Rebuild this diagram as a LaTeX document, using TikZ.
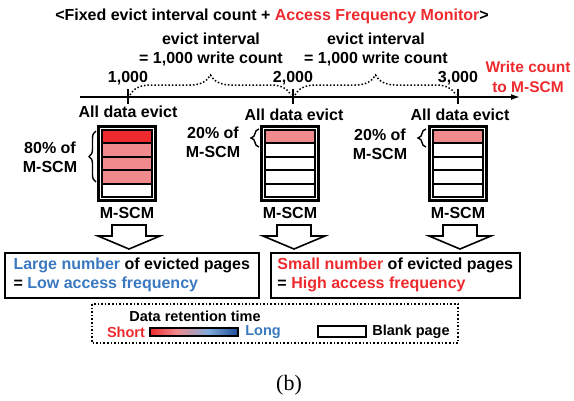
\documentclass[tikz,border=0pt]{standalone}
\usepackage{fontspec}
\setmainfont{Liberation Sans}
\newfontfamily\capfont{Liberation Serif}
\usetikzlibrary{positioning,decorations.pathreplacing,arrows.meta}

\definecolor{hotred}{HTML}{EE2A2F}
\definecolor{warmpink}{HTML}{F08A8C}
\definecolor{coolblue}{HTML}{3A78C0}
\definecolor{paleblue}{HTML}{7FA9DA}
\definecolor{deepblue}{HTML}{1F4D98}
\pgfdeclarehorizontalshading{retention}{100bp}{color(0bp)=(hotred); color(25bp)=(hotred); color(40bp)=(warmpink); color(58bp)=(paleblue); color(75bp)=(deepblue); color(100bp)=(deepblue)}

\tikzset{
  lbl/.style={font=\fontsize{16}{19}\selectfont\bfseries, inner sep=0pt},
  small/.style={font=\fontsize{14.5}{17}\selectfont\bfseries, inner sep=0pt},
  frame/.style={line width=3pt},
  page/.style={line width=1.6pt},
  tick/.style={line width=2pt},
  hollow/.style={line width=1.6pt, fill=white},
  textbox/.style={lbl, draw, line width=1.6pt, minimum height=45pt, align=left,
    inner xsep=5pt, inner ysep=4pt, anchor=north west},
}

\begin{document}
\begin{tikzpicture}[x=1pt, y=-1pt]
\useasboundingbox (0,0) rectangle (574,400);

% Tiêu đề
\node[lbl] (title) at (272,16) {<Fixed evict interval count + \textcolor{hotred}{Access Frequency Monitor}>};

% Trục số lần ghi
\coordinate (axstart) at (80,97);
\coordinate (axend) at (520,97);
\draw[line width=1.5pt, -{Latex[length=9pt,width=6pt]}] (axstart) -- (axend);
\node[lbl, text=hotred, align=center, font=\fontsize{15.5}{20}\selectfont\bfseries]
  (wcount) at (528,76.5) {Write count\\to M-SCM};

% Các vạch 1,000 / 2,000 / 3,000
\foreach \x/\v [count=\i] in {128/{1,000}, 293/{2,000}, 458/{3,000}} {
  \coordinate (t\i) at (\x,97);
  \draw[tick] (\x,89) -- (\x,104);
  \node[lbl] (num\i) at (\x,78) {\v};
}

% Ngoặc chấm: khoảng evict
\coordinate (b1) at (130,95);
\coordinate (b2) at (291,95);
\coordinate (b3) at (295,95);
\coordinate (b4) at (456,95);
\draw[decorate, decoration={brace, amplitude=20pt}, dotted, line width=1.5pt] (b1) -- (b2);
\draw[decorate, decoration={brace, amplitude=20pt}, dotted, line width=1.5pt] (b3) -- (b4);
\node[lbl, align=center] (int1) at (211,49.5) {evict interval\\= 1,000 write count};
\node[lbl, align=center] (int2) at (376,49.5) {evict interval\\= 1,000 write count};

% All data evict
\node[lbl] (ev1) at (128,112) {All data evict};
\node[lbl] (ev2) at (294,115) {All data evict};
\node[lbl] (ev3) at (460,115) {All data evict};

% Ba khối M-SCM
\foreach \c/\cols [count=\i] in {127/{hotred,warmpink,warmpink,warmpink,white},
    290/{warmpink,white,white,white,white}, 458/{warmpink,white,white,white,white}} {
  \draw[frame] (\c-28.5,126.5) rectangle (\c+28.5,200.5);
  \foreach \f [count=\k from 0] in \cols
    \draw[page, fill=\f] (\c-25.2,129.8+13.48*\k) rectangle (\c+25.2,143.28+13.48*\k);
  \node[lbl] (scm\i) at (\c,213) {M-SCM};
}

% Ngoặc phần trăm
\draw[decorate, decoration={brace, amplitude=7pt}, line width=1.4pt] (96,182) -- (96,131);
\draw[decorate, decoration={brace, amplitude=8pt}, line width=1.4pt] (259,147) -- (259,129);
\draw[decorate, decoration={brace, amplitude=8pt}, line width=1.4pt] (426,147) -- (426,129);
\node[lbl, align=center] (pct1) at (50,157.5) {80\% of\\M-SCM};
\node[lbl, align=center] (pct2) at (213,142.5) {20\% of\\M-SCM};
\node[lbl, align=center] (pct3) at (380,144) {20\% of\\M-SCM};

% Mũi tên rỗng
\foreach \x in {129,294,460}
  \draw[hollow] (\x-17,225) -- (\x+17,225) -- (\x+17,236) -- (\x+31,236)
    -- (\x,249) -- (\x-31,236) -- (\x-17,236) -- cycle;

% Hai ô kết luận
\node[textbox, minimum width=254pt] (lowbox) at (4,252)
  {\textcolor{coolblue}{Large number} of evicted pages\\= \textcolor{coolblue}{Low access frequency}};
\node[textbox, minimum width=249pt] (highbox) at (270,252)
  {\textcolor{hotred}{Small number} of evicted pages\\= \textcolor{hotred}{High access frequency}};

% Chú thích
\draw[dotted, line width=1.6pt] (92,304) rectangle (458,343);
\node[small] (ret) at (195,316) {Data retention time};
\node[small, text=hotred] (short) at (126,332) {Short};
\shade[shading=retention] (150,328) rectangle (238,336);
\draw[line width=1.6pt] (150,328) rectangle (238,336);
\node[small, text=coolblue] (long) at (263,332) {Long};
\draw[line width=1.8pt] (318,326) rectangle (366,337);
\node[small] (blank) at (411,332) {Blank page};

% Nhãn hình
\node[font=\capfont\fontsize{22}{24}\selectfont, inner sep=0pt] (cap) at (289,385) {(b)};

\end{tikzpicture}
\end{document}
